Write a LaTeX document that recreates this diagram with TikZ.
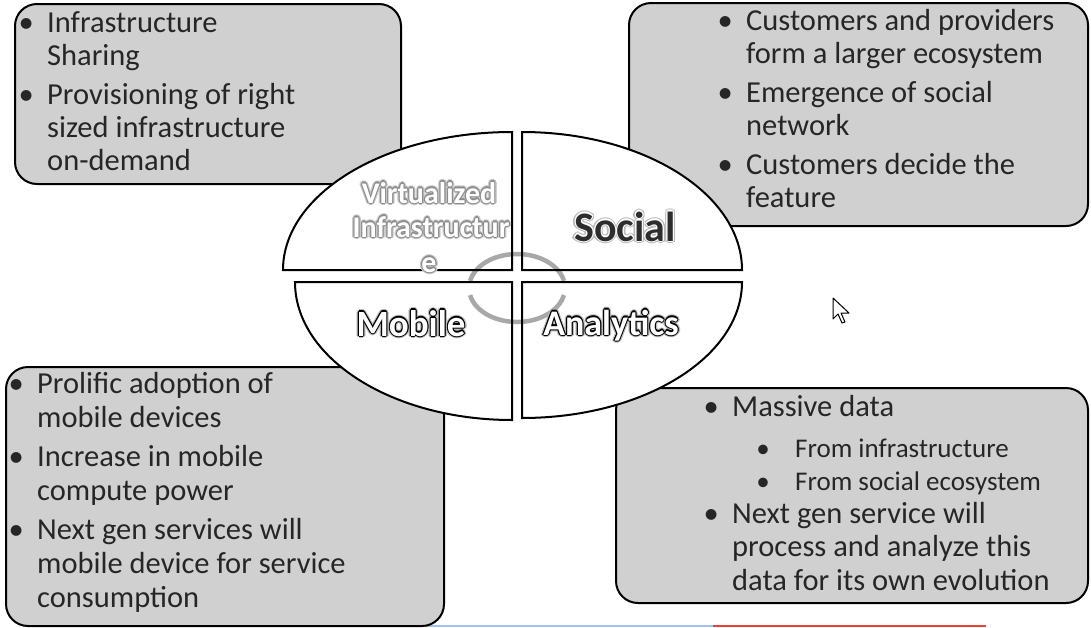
\documentclass[tikz,border=0pt]{standalone}
\usepackage{fontspec}
\setmainfont{Carlito}
\definecolor{panelgray}{RGB}{208,208,208}
\definecolor{bodyink}{RGB}{38,38,38}
\definecolor{ringgray}{RGB}{168,168,168}
\definecolor{halolight}{RGB}{200,200,200}
\definecolor{halomid}{RGB}{140,140,140}
\definecolor{haloouter}{RGB}{185,185,185}
\definecolor{darkfill}{RGB}{45,45,45}
\definecolor{barblue}{RGB}{164,194,244}
\definecolor{barred}{RGB}{234,67,53}
\definecolor{baryellow}{RGB}{244,194,13}
\newlength\hl
\newcommand\halo[3]{\setlength\hl{#2}%
 \rlap{\kern\hl\textcolor{#1}{#3}}%
 \rlap{\kern-\hl\textcolor{#1}{#3}}%
 \rlap{\raisebox{\hl}{\textcolor{#1}{#3}}}%
 \rlap{\raisebox{-\hl}{\textcolor{#1}{#3}}}%
 \rlap{\kern0.7\hl\raisebox{0.7\hl}{\textcolor{#1}{#3}}}%
 \rlap{\kern-0.7\hl\raisebox{0.7\hl}{\textcolor{#1}{#3}}}%
 \rlap{\kern0.7\hl\raisebox{-0.7\hl}{\textcolor{#1}{#3}}}%
 \rlap{\kern-0.7\hl\raisebox{-0.7\hl}{\textcolor{#1}{#3}}}}
\newcommand\wart[4]{\leavevmode\halo{#1}{2.4pt}{#4}\halo{#2}{1.1pt}{#4}\textcolor{#3}{#4}}
\newcommand\bul{\leavevmode\llap{\makebox[0pt]{\textbullet}\hspace{21pt}}}
\newcommand\subbul{\leavevmode\llap{\makebox[0pt]{\textbullet}\hspace{32pt}}}
\newcommand\bodyfont{\fontsize{30.5}{33}\selectfont}
\tikzset{
  panel/.style={draw=black, line width=2pt, fill=panelgray, rounded corners=22pt, anchor=north west, inner sep=0pt},
  bodytext/.style={anchor=base west, inner sep=0pt, text=bodyink},
  quarterline/.style={draw=black, line width=2pt},
  ring/.style={draw=ringgray, line width=4.5pt},
  qlabel/.style={anchor=base, inner sep=0pt},
  cursorshape/.style={draw=black, fill=white, line width=1pt, line join=round},
  bar/.style={line width=2.5pt}
}
\begin{document}
\begin{tikzpicture}[x=1pt,y=-1pt]
\useasboundingbox (0,0) rectangle (1091,627);
\fill[white] (0,0) rectangle (1091,627);
% progress bar at bottom
\draw[bar, baryellow] (112,626) -- (427,626);
\draw[bar, barblue] (427,626) -- (713,626);
\draw[bar, barred] (713,626) -- (986,626);
% panels
\node[panel, minimum width=386pt, minimum height=180pt] (tlbox) at (14,3) {};
\node[panel, minimum width=459pt, minimum height=223pt] (trbox) at (628,2) {};
\node[panel, minimum width=438pt, minimum height=259pt] (blbox) at (5,366) {};
\node[panel, minimum width=472pt, minimum height=215pt] (brbox) at (615,387) {};
% panel texts
\node[bodytext] (tltext) at (47,32) {\parbox[t]{360pt}{\bodyfont
 \bul Infrastructure\\ Sharing\\[6pt]
 \bul Provisioning of right\\ sized infrastructure\\ on-demand}};
\node[bodytext] (trtext) at (746,30) {\parbox[t]{340pt}{\bodyfont
 \bul Customers and providers\\ form a larger ecosystem\\[6pt]
 \bul Emergence of social\\ network\\[6pt]
 \bul Customers decide the\\ feature}};
\node[bodytext] (bltext) at (37,393) {\parbox[t]{400pt}{\fontsize{30.5}{34}\selectfont
 \bul Prolific adoption of\\ mobile devices\\[5pt]
 \bul Increase in mobile\\ compute power\\[5pt]
 \bul Next gen services will\\ mobile device for service\\ consumption}};
\node[bodytext] (brtext1) at (732,416) {\parbox[t]{340pt}{\bodyfont \bul Massive data}};
\node[bodytext] (brsub) at (795,457) {\parbox[t]{300pt}{\fontsize{27}{33}\selectfont
 \subbul From infrastructure\\ \subbul From social ecosystem}};
\node[bodytext] (brtext2) at (732,523) {\parbox[t]{340pt}{\fontsize{30.5}{33.5}\selectfont
 \bul Next gen service will\\ process and analyze this\\ data for its own evolution}};
% ellipse quarters: fills
\fill[white] (512,270) -- (283,270) arc[start angle=180,end angle=90,x radius=229pt,y radius=138pt] -- cycle;
\fill[white] (522,270) -- (522,132) arc[start angle=90,end angle=0,x radius=220pt,y radius=138pt] -- cycle;
\fill[white] (512,282) -- (295,282) arc[start angle=180,end angle=270,x radius=217pt,y radius=138pt] -- cycle;
\fill[white] (522,282) -- (742,282) arc[start angle=0,end angle=-90,x radius=220pt,y radius=136pt] -- cycle;
% cycle ring
\coordinate (ringc) at (517,288);
\draw[ring] (ringc) ++(12:48pt and 34pt) arc[start angle=12,end angle=168,x radius=48pt,y radius=34pt];
\draw[ring] (ringc) ++(192:48pt and 34pt) arc[start angle=192,end angle=348,x radius=48pt,y radius=34pt];
% ellipse quarters: outlines
\draw[quarterline] (512,270) -- (283,270) arc[start angle=180,end angle=90,x radius=229pt,y radius=138pt] -- cycle;
\draw[quarterline] (522,270) -- (522,132) arc[start angle=90,end angle=0,x radius=220pt,y radius=138pt] -- cycle;
\draw[quarterline] (512,282) -- (295,282) arc[start angle=180,end angle=270,x radius=217pt,y radius=138pt] -- cycle;
\draw[quarterline] (522,282) -- (742,282) arc[start angle=0,end angle=-90,x radius=220pt,y radius=136pt] -- cycle;
% quarter labels
\node[qlabel, font=\bfseries\fontsize{30}{33}\selectfont] (vl1) at (429,203) {\wart{halolight}{halomid}{white}{Virtualized}};
\node[qlabel, font=\bfseries\fontsize{30}{33}\selectfont] (vl2) at (431,237) {\wart{halolight}{halomid}{white}{Infrastructur}};
\node[qlabel, font=\bfseries\fontsize{30}{33}\selectfont] (vl3) at (429,272) {\wart{halolight}{halomid}{white}{e}};
\node[qlabel, font=\bfseries\fontsize{42}{46}\selectfont] (social) at (625,241) {\wart{haloouter}{white}{darkfill}{Social}};
\node[qlabel, font=\bfseries\fontsize{37}{40}\selectfont] (mobile) at (411,336) {\wart{haloouter}{black}{white}{Mobile}};
\node[qlabel, font=\bfseries\fontsize{36}{40}\selectfont] (analytics) at (611,335) {\wart{haloouter}{black}{white}{Analytics}};
% mouse cursor
\draw[cursorshape] (833,298) -- (833,319) -- (838,314) -- (842,323) -- (845,322) -- (841,313) -- (849,313) -- cycle;
\end{tikzpicture}
\end{document}
